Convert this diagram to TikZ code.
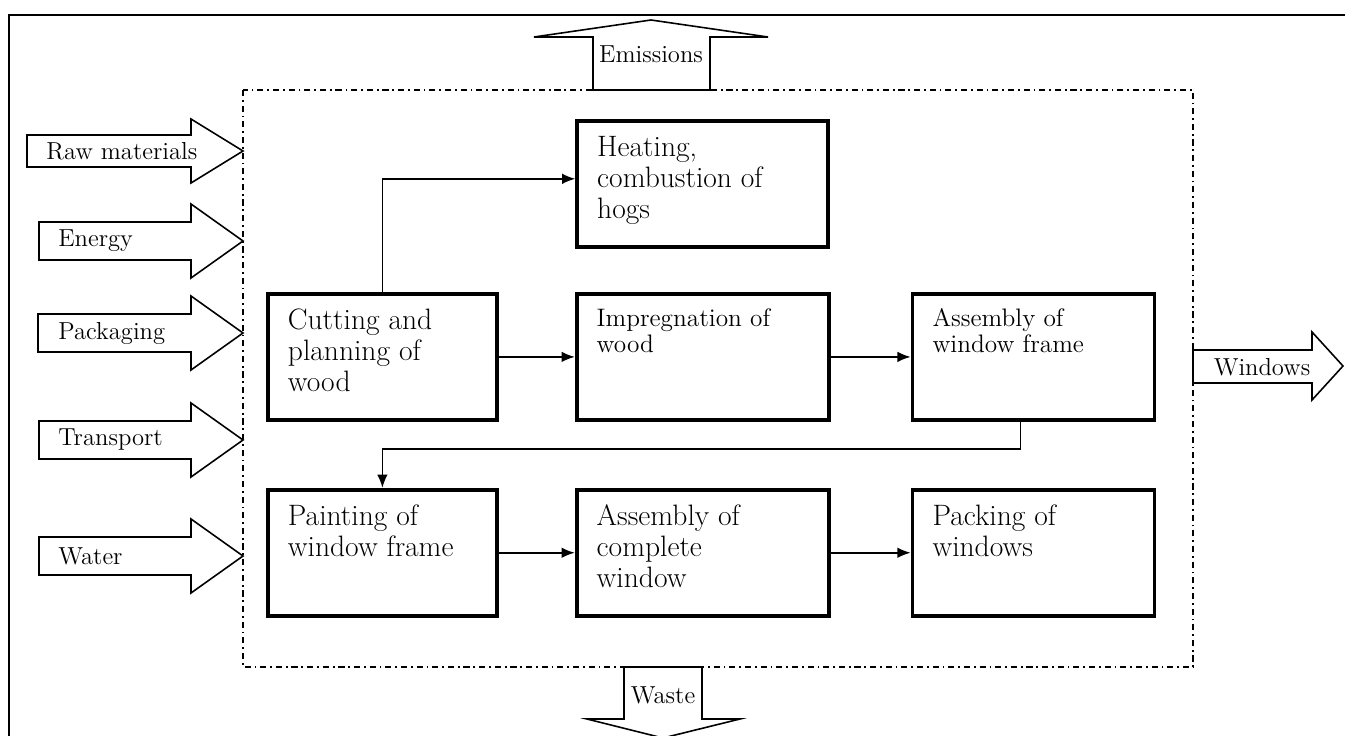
\documentclass[tikz,border=0pt]{standalone}
\usetikzlibrary{arrows.meta,positioning}
\tikzstyle{proc} = [rectangle, draw=black, line width=2.2pt, inner xsep=0.4cm, inner ysep=0.3cm]
\tikzstyle{blockarrow} = [draw=black, line width=0.9pt, fill=white, line join=miter]
\tikzstyle{lbl} = [font=\fontsize{14}{16}\selectfont, inner sep=0pt]
\tikzstyle{arrow} = [line width=0.9pt, -{Latex[length=7.5pt,width=6pt]}]
\tikzstyle{sysbound} = [line width=0.7pt, dash pattern=on 3.5pt off 2.2pt on 1pt off 2.2pt]
\newcommand{\procbig}[2]{\parbox[c][1.92cm][t]{#1}{\fontsize{16.8}{17.6}\selectfont\raggedright #2}}
\newcommand{\procsmall}[2]{\parbox[c][1.92cm][t]{#1}{\fontsize{14.4}{14.8}\selectfont\raggedright #2}}

\begin{document}
\begin{tikzpicture}[x=0.02cm, y=-0.02cm, >=Latex]
    \useasboundingbox (0,0) rectangle (1345,736);
    % outer frame and system boundary
    \draw[line width=0.8pt] (9,736) -- (9,15) -- (1345,15);
    \draw[sysbound] (243,90) rectangle (1193,667);

    % process steps
    \node[proc, anchor=north west] (cut) at (266,292)
        {\procbig{3.78cm}{Cutting and\\planning of\\wood}};
    \node[proc, right=1.52cm of cut] (impreg)
        {\procsmall{4.24cm}{Impregnation of\\wood}};
    \node[proc, right=1.6cm of impreg] (frame)
        {\procsmall{4.04cm}{Assembly of\\window frame}};
    \node[proc, above=0.86cm of impreg] (heat)
        {\procbig{4.22cm}{Heating,\\combustion of\\hogs}};
    \node[proc, below=1.32cm of cut] (paint)
        {\procbig{3.78cm}{Painting of\\window frame}};
    \node[proc, right=1.52cm of paint] (complete)
        {\procbig{4.24cm}{Assembly of\\complete\\window}};
    \node[proc, right=1.6cm of complete] (pack)
        {\procbig{4.04cm}{Packing of\\windows}};

    \draw[arrow] (cut.north) |- ([yshift=3pt]heat.west);
    \draw[arrow] (cut) -- (impreg);
    \draw[arrow] (impreg) -- (frame);
    \draw[arrow] ([xshift=-0.26cm]frame.south) -- ++(0,27) -| (paint.north);
    \draw[arrow] (paint) -- (complete);
    \draw[arrow] (complete) -- (pack);

    % inputs
    \foreach \yc/\xl/\sh/\hh/\xt/\nm/\txt in {151/27/16/32/46/raw/Raw materials,
        241/39/19/37/58/energy/Energy, 333/38/19/37/58/packaging/Packaging,
        440/39/19/37/58/transport/Transport, 556/39/19/37/58/water/Water}
    {
        \draw[blockarrow] (\xl,\yc-\sh) -- (191,\yc-\sh) -- (191,\yc-\hh) -- (243,\yc)
            -- (191,\yc+\hh) -- (191,\yc+\sh) -- (\xl,\yc+\sh) -- cycle;
        \node[lbl, anchor=west] (\nm) at (\xt,\yc) {\txt};
    }

    % outputs
    \draw[blockarrow] (593,90) -- (593,37) -- (534,37) -- (651,20) -- (768,37)
        -- (710,37) -- (710,90) -- cycle;
    \node[lbl] (emis) at (651,54) {Emissions};
    \draw[blockarrow] (624,667) -- (624,719) -- (587,719) -- (663,738) -- (740,719)
        -- (702,719) -- (702,667) -- cycle;
    \node[lbl] (waste) at (663,695) {Waste};
    \draw[blockarrow] (1193,350) -- (1312,350) -- (1312,332) -- (1343,366) -- (1312,400)
        -- (1312,383) -- (1193,383) -- cycle;
    \node[lbl] (windows) at (1262,367) {Windows};
\end{tikzpicture}
\end{document}
